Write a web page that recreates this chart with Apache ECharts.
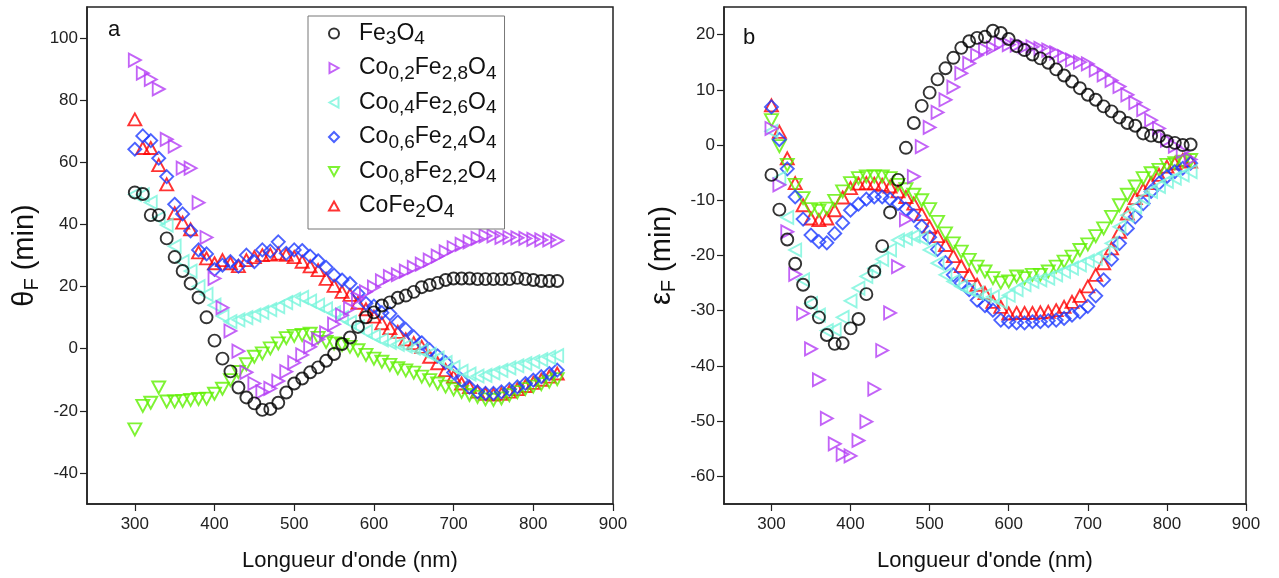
<!DOCTYPE html>
<html>
<head>
<meta charset="utf-8">
<script src="https://cdn.jsdelivr.net/npm/echarts@6/dist/echarts.min.js"></script>
<style>html,body{margin:0;padding:0;background:#fff}#c{width:1279px;height:578px}</style>
</head>
<body>
<div id="c"></div>
<script>
// ---- data ----
const wavelengths = [300,310,320,330,340,350,360,370,380,390,400,410,420,430,440,450,460,470,480,490,500,510,520,530,540,550,560,570,580,590,600,610,620,630,640,650,660,670,680,690,700,710,720,730,740,750,760,770,780,790,800,810,820,830];
const seriesNames = ['Fe3O4','Co0,2Fe2,8O4','Co0,4Fe2,6O4','Co0,6Fe2,4O4','Co0,8Fe2,2O4','CoFe2O4'];
const xTicks = [300,400,500,600,700,800,900];
const thetaTicks = [-40,-20,0,20,40,60,80,100];
const epsTicks = [-60,-50,-40,-30,-20,-10,0,10,20];

// panel a : theta_F (min)
const thetaFe3O4 = [50.3,49.8,43,43,35.5,29.5,25,21,16.5,10.1,2.6,-3.2,-7.3,-12.5,-15.7,-17.6,-19.7,-19.4,-17.4,-14.1,-11.2,-9.6,-7.6,-6,-3.9,-1.7,1.5,3.6,7,10.1,11.7,13.9,14.9,16.4,17.1,18.3,19.8,20.5,21.2,22.1,22.6,22.6,22.6,22.4,22.4,22.4,22.4,22.4,22.8,22.4,22.1,21.8,21.8,21.8];
const thetaCo02 = [92.9,88.7,86.7,83.6,67.4,65.2,58.1,58.1,47,35.8,22.6,13.2,5.7,-0.8,-7.6,-11.2,-13.9,-12.8,-10.4,-7.4,-4.5,-2,0.6,3,5.1,7.9,10.8,13,16.2,18.3,19.8,21.8,23.2,23.8,25,26.2,27.2,28.5,29.8,31.2,32.5,33.6,34.4,35.5,36.3,36.3,35.8,35.8,35.7,35.5,35.2,35,35,34.8];
const thetaCo04 = [49.7,49.5,47.1,42,39.8,33,28,25,20,17.5,14,10.5,8.7,9.3,10,10.8,11.7,12.6,13.5,14.8,15.9,16.5,15.3,14,12.8,11.5,10,8.5,7,5.5,4.1,2.8,2,1.4,0.8,0.2,-0.6,-1.8,-3,-4.5,-6,-7.3,-8.2,-8.8,-8.6,-7.8,-7,-6.2,-5.5,-4.8,-4.2,-3.5,-2.8,-2.2];
const thetaCo06 = [64.2,68.5,67,61.3,55.4,46.5,43.4,37.9,31.8,30.5,25.5,26.9,28,26.6,30.1,28,31.8,31.4,34.4,30.7,31.8,31.6,29.8,28.3,26.2,23.7,22.1,21,17.8,14.6,13.7,11.6,11.3,8.6,6.2,3.8,1.9,-0.4,-2.3,-4.4,-7.7,-10.1,-12.4,-13.9,-14.4,-14.4,-13.9,-13.1,-12.3,-11.2,-10.1,-9,-8,-6.9];
const thetaCo08 = [-26,-18.4,-17.4,-12.5,-17,-17,-16.8,-16.5,-16.2,-16.1,-14.5,-12.9,-10.1,-7.5,-5,-2.6,-1.5,0.1,1.7,3.4,4.1,4.4,4.8,3.5,2.2,1.7,1.2,0.6,-0.5,-2,-3.2,-4.2,-5.2,-6.3,-7,-7.7,-9,-10.1,-11.2,-12.2,-13.1,-13.9,-14.9,-15.5,-16.3,-16.5,-16,-15,-14,-13,-12.2,-11.4,-10.6,-9.8];
const thetaCoFe2O4 = [73.8,64.6,64.6,59.1,52.9,43.6,40.6,38.4,31,29.1,27.5,28.5,27.5,26.6,28.5,29.5,30.1,30.3,30.6,30.2,29.5,28,26.5,25.3,22.5,20.2,18.3,17.3,14.8,12.7,10.3,8.2,6.6,5.4,3,1.8,0.6,-2.6,-4.7,-6.9,-9,-11.2,-12.4,-13.8,-14.5,-14.8,-14.5,-13.8,-13,-12,-11,-10,-9,-8];

// panel b : epsilon_F (min)
const epsFe3O4 = [-5.4,-11.7,-17.1,-21.5,-25.3,-28.5,-31.2,-34.4,-36,-35.9,-33.2,-31.5,-27,-22.9,-18.3,-12.2,-6.3,-0.5,4,7.1,9.5,11.9,13.9,15.8,17.6,18.8,19.4,19.6,20.7,20.3,19.2,17.9,17.2,16.4,15.7,14.9,13.7,12.6,11.5,10.3,9.1,8.2,7,6.1,5,4,3.5,2.1,1.7,1.6,0.7,0.4,0,0.1];
const epsCo02 = [3,-7.2,-15.7,-23.4,-30.5,-36.9,-42.5,-49.5,-54.1,-56,-56.3,-53.5,-50.1,-44.2,-37.2,-30.4,-22,-13.5,-5.7,-0.3,3.2,5.9,8.2,10.5,13,14.8,16.3,17.3,17.6,18.4,18.2,18.1,17.8,17.8,17.5,17.2,16.7,16,15.4,15,14.7,13.6,12.7,11.7,10.6,9.1,7.7,6.4,4.5,3,0.9,-0.2,-1.2,-2.6];
const epsCo04 = [2.5,-6,-13.1,-19,-24.4,-28.7,-30.8,-33.6,-33.4,-31.2,-28.2,-25.9,-23.8,-22.3,-20.7,-19,-17.2,-16.9,-16.5,-16.9,-19,-21.4,-23.5,-24.7,-25.6,-26.2,-26.8,-27.2,-27.5,-28.4,-27.2,-26.2,-25.3,-24.7,-24.4,-24.1,-23.5,-22.9,-22.3,-21.7,-21,-20.5,-19.6,-17.8,-14.8,-12.7,-11.2,-9.6,-8.4,-7.5,-6.6,-6,-5.4,-4.8];
const epsCo06 = [6.9,1,-4.3,-9.4,-13.4,-16.3,-17.5,-17.7,-16,-14.1,-11.8,-10.7,-9.8,-9.4,-9.4,-9.8,-10.6,-11.6,-12.8,-14.7,-16.7,-18.9,-21.3,-23.5,-25,-26.2,-28.1,-29.1,-29.9,-31.7,-32,-32.2,-32.2,-32,-32,-31.8,-31.7,-31.4,-30.8,-30.2,-29.2,-27.3,-24.4,-20.7,-17.8,-15.1,-13,-10.6,-8.4,-6.9,-5.7,-4.8,-4.2,-3.3];
const epsCo08 = [4.5,-0.2,-3.6,-7.2,-9.6,-11.6,-11.9,-11.5,-10.1,-8.4,-6.9,-6,-5.7,-5.7,-5.7,-6,-7.2,-8,-9,-10,-11.6,-13.9,-16,-17.8,-19.3,-20.8,-22,-22.9,-24.1,-24.9,-24.7,-23.8,-24.1,-23.5,-23.5,-22.9,-22,-21.1,-20.2,-19,-18,-16.5,-15.1,-13,-10.9,-9,-7.5,-6,-5.1,-4.5,-3.6,-3.3,-3,-2.7];
const epsCoFe2O4 = [7.2,2.4,-2.4,-6.9,-10.9,-13.3,-13.6,-13.3,-11.8,-9.5,-7.8,-7,-6.9,-7,-7.2,-7.5,-8.4,-9.4,-10.6,-12.5,-14.8,-16.5,-18.1,-20.1,-21.9,-23.5,-25.3,-26.8,-28.4,-29.3,-30.5,-30.4,-30.4,-30.4,-30.3,-30.2,-29.9,-29.3,-28.4,-27.3,-25.6,-23.5,-21.4,-18.7,-15.7,-12.4,-9.6,-8.1,-6.9,-5.4,-3.9,-3.3,-2.7,-3];

// ---- styles ----
const FONT = "'Liberation Sans', Arial, sans-serif";
const styles = [
  {color:'#000000', symbol:'circle',   rot:0,   size:[12,12], icon:'circle'},
  {color:'#b43cf5', symbol:'triangle', rot:-90, size:[13,12], icon:'path://M0,0L9,5L0,10Z'},
  {color:'#78f5dc', symbol:'triangle', rot:90,  size:[13,12], icon:'path://M9,0L0,5L9,10Z'},
  {color:'#1f3cff', symbol:'diamond',  rot:0,   size:[13,13], icon:'diamond'},
  {color:'#5ef000', symbol:'triangle', rot:180, size:[13,12], icon:'path://M0,0L10,0L5,9Z'},
  {color:'#ff0000', symbol:'triangle', rot:0,   size:[13,12], icon:'path://M5,0L10,9L0,9Z'}
];
const thetaSets = [thetaFe3O4, thetaCo02, thetaCo04, thetaCo06, thetaCo08, thetaCoFe2O4];
const epsSets = [epsFe3O4, epsCo02, epsCo04, epsCo06, epsCo08, epsCoFe2O4];

function pairs(ys){ return wavelengths.map((x,i)=>[x, ys[i]]); }

const drawOrder = [5,4,3,2,1,0];
const series = [];
[thetaSets, epsSets].forEach((sets, gi) => {
  drawOrder.forEach(k => {
    const st = styles[k];
    series.push({
      name: seriesNames[k], type:'scatter', xAxisIndex: gi, yAxisIndex: gi,
      data: pairs(sets[k]), symbol: st.symbol, symbolRotate: st.rot, symbolSize: st.size,
      itemStyle: {color:'rgba(255,255,255,0)', borderColor: st.color, borderWidth: 1.9},
      emphasis: {disabled: true}, animation: false
    });
  });
});

function richName(n){
  const parts = n.match(/[A-Za-z]+|[0-9,]+/g);
  return parts.map(p => /^[0-9,]+$/.test(p) ? '{s|' + p + '}' : '{m|' + p + '}').join('');
}

const xAxisCommon = {
  type:'value', min:240, max:900,
  axisLine:{show:true, onZero:false, lineStyle:{color:'#222', width:1.5}},
  axisTick:{show:true, customValues: xTicks, length:7, lineStyle:{color:'#222', width:1.2}},
  axisLabel:{customValues: xTicks, color:'#222', fontSize:17, fontFamily:FONT, margin:12},
  splitLine:{show:false},
  name:"Longueur d'onde (nm)", nameLocation:'middle', nameGap:46,
  nameTextStyle:{fontSize:22, color:'#111', fontFamily:FONT}
};
const yAxisCommon = {
  type:'value',
  axisLine:{show:true, onZero:false, lineStyle:{color:'#222', width:1.5}},
  splitLine:{show:false},
  nameLocation:'middle', nameRotate:90
};
const yNameRich = {
  m:{fontSize:29, lineHeight:34, fontFamily:FONT, color:'#111'},
  s:{fontSize:20, lineHeight:14, verticalAlign:'bottom', fontFamily:FONT, color:'#111'}
};

const option = {
  backgroundColor:'#fff',
  animation:false,
  grid:[
    {left:87, top:7, width:526, height:497, show:true, borderColor:'#222', borderWidth:1.5, backgroundColor:'transparent'},
    {left:724, top:7, width:522, height:497, show:true, borderColor:'#222', borderWidth:1.5, backgroundColor:'transparent'}
  ],
  xAxis:[
    Object.assign({}, xAxisCommon, {gridIndex:0}),
    Object.assign({}, xAxisCommon, {gridIndex:1})
  ],
  yAxis:[
    Object.assign({}, yAxisCommon, {gridIndex:0, min:-50, max:110,
      axisTick:{show:true, customValues: thetaTicks, length:7, lineStyle:{color:'#222', width:1.2}},
      axisLabel:{customValues: thetaTicks, color:'#222', fontSize:17, fontFamily:FONT, margin:9},
      name:'{m|θ}{s|F}{m| (min)}', nameGap:45,
      nameTextStyle:{fontFamily:FONT, color:'#111', rich:yNameRich}}),
    Object.assign({}, yAxisCommon, {gridIndex:1, min:-65, max:25,
      axisTick:{show:true, customValues: epsTicks, length:7, lineStyle:{color:'#222', width:1.2}},
      axisLabel:{customValues: epsTicks, color:'#222', fontSize:17, fontFamily:FONT, margin:9},
      name:'{m|ε}{s|F}{m| (min)}', nameGap:45,
      nameTextStyle:{fontFamily:FONT, color:'#111', rich:yNameRich}})
  ],
  legend:{
    data: seriesNames.map((n,k) => ({name:n, icon:styles[k].icon,
      itemStyle:{color:'rgba(255,255,255,0)', borderColor:styles[k].color, borderWidth:2}})),
    orient:'vertical', left:308, top:16,
    padding:[6,8,8,20], itemGap:8, itemWidth:10, itemHeight:10,
    borderColor:'#777', borderWidth:1, backgroundColor:'#fff',
    selectedMode:false,
    formatter: n => richName(n),
    textStyle:{padding:[0,0,0,15], fontFamily:FONT, color:'#111', rich:{
      m:{fontSize:23, lineHeight:30, fontFamily:FONT, color:'#111'},
      s:{fontSize:19, lineHeight:14, verticalAlign:'bottom', fontFamily:FONT, color:'#111'}}}
  },
  graphic:[
    {type:'text', left:108, top:19, style:{text:'a', font:'22px ' + FONT, fill:'#111'}},
    {type:'text', left:743, top:27, style:{text:'b', font:'22px ' + FONT, fill:'#111'}}
  ],
  series: series
};

const chart = echarts.init(document.getElementById('c'), null, {renderer:'canvas'});
chart.setOption(option);
</script>
</body>
</html>
